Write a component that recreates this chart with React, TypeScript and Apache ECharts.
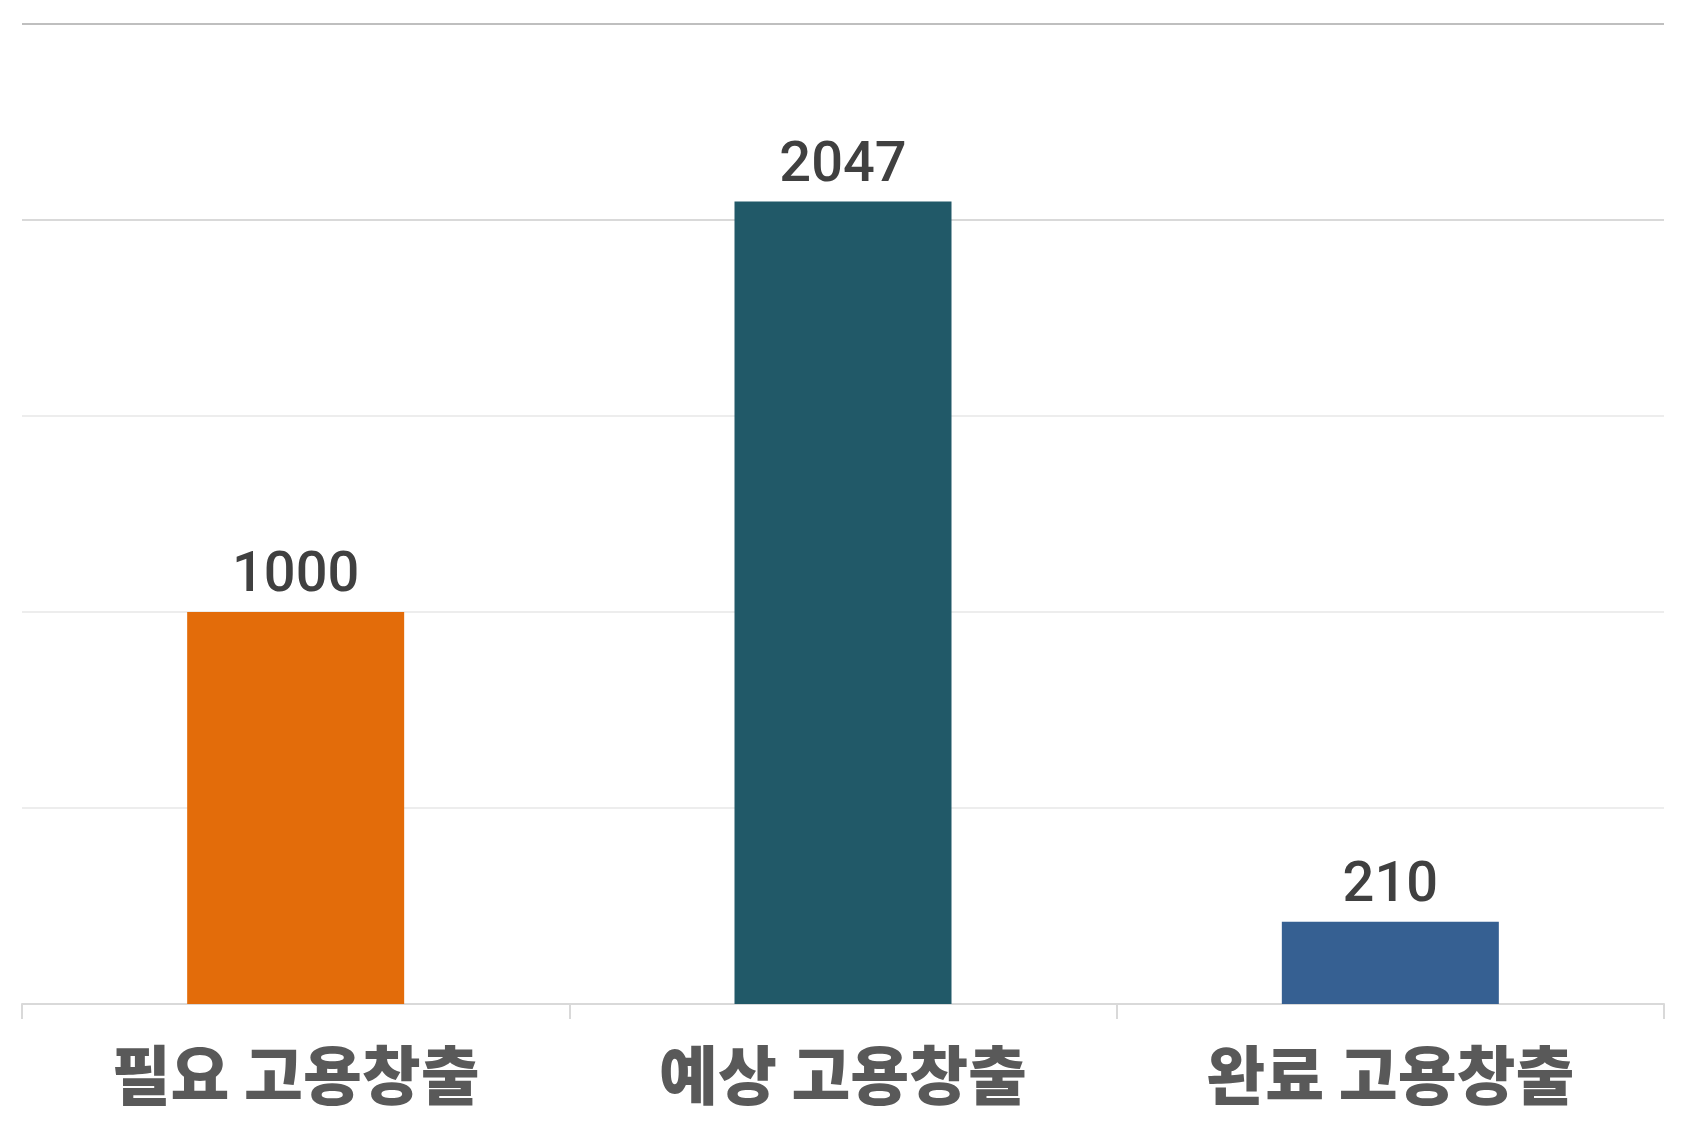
import React, { useEffect, useRef } from "react";
import * as echarts from "echarts";

const categories = ["필요 고용창출", "예상 고용창출", "완료 고용창출"];
const values = [1000, 2047, 210];
const barColors = ["#E36C0A", "#215968", "#366092"];
const yMin = 0;
const yMax = 2500;
const yInterval = 500;

export default function App() {
  const ref = useRef<HTMLDivElement>(null);
  useEffect(() => {
    if (!ref.current) return;
    const chart = echarts.init(ref.current, null, { renderer: "svg" });
    chart.setOption({
      animation: false,
      backgroundColor: "#ffffff",
      grid: { left: 22, right: 23, top: 24, bottom: 123, containLabel: false },
      xAxis: {
        type: "category",
        data: categories,
        boundaryGap: true,
        axisLine: { show: true, lineStyle: { color: "#d9d9d9", width: 2 } },
        axisTick: { show: true, length: 15, lineStyle: { color: "#d9d9d9", width: 2 } },
        axisLabel: {
          color: "#595959",
          fontSize: 64,
          fontWeight: 900,
          fontFamily: "'Noto Sans CJK KR', sans-serif",
          margin: 35,
        },
      },
      yAxis: {
        type: "value",
        min: yMin,
        max: yMax,
        interval: yInterval,
        axisLine: { show: false },
        axisTick: { show: false },
        axisLabel: { show: false },
        splitLine: {
          show: true,
          lineStyle: {
            color: ["#d9d9d9", "#ededed", "#ededed", "#ededed", "#d9d9d9", "#bfbfbf"],
            width: 2,
          },
        },
      },
      series: [
        {
          type: "bar",
          data: values.map((v, i) => ({ value: v, itemStyle: { color: barColors[i] } })),
          barWidth: 217,
          label: {
            show: true,
            position: "top",
            distance: 12,
            color: "#404040",
            fontSize: 56,
            fontWeight: 500,
            fontFamily: "'Liberation Sans Narrow', 'Roboto', sans-serif",
          },
        },
      ],
    });
    return () => chart.dispose();
  }, []);
  return <div ref={ref} style={{ width: 1687, height: 1127, position: "absolute", left: 0, top: 0 }} />;
}
